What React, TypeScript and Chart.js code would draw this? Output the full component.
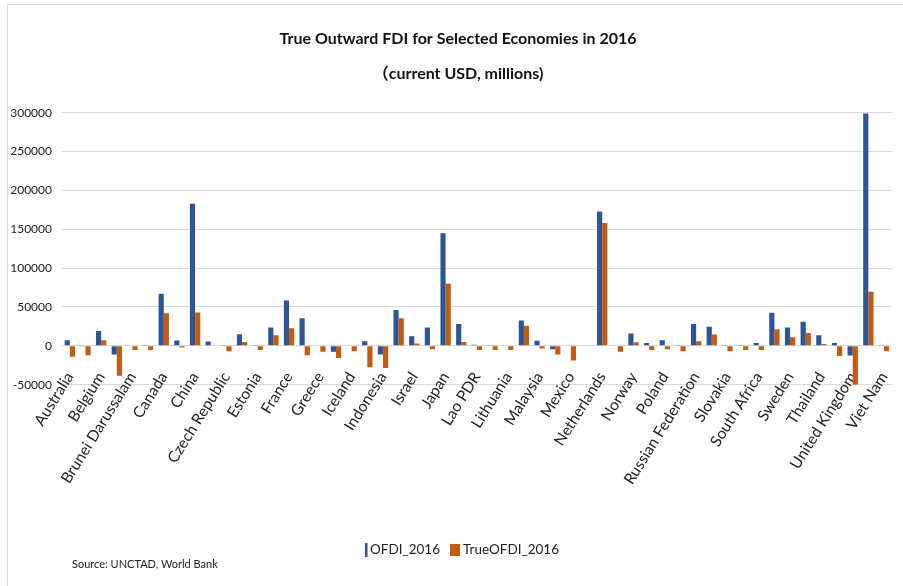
import React, { useEffect, useRef } from 'react';
import { Chart, registerables } from 'chart.js';

Chart.register(...registerables);

const categories = [
  'Australia', 'Austria', 'Belgium', 'Brazil', 'Brunei Darussalam', 'Cambodia', 'Canada', 'Chile', 'China',
  'Colombia', 'Czech Republic', 'Denmark', 'Estonia', 'Finland', 'France', 'Germany', 'Greece', 'Hungary',
  'Iceland', 'India', 'Indonesia', 'Ireland', 'Israel', 'Italy', 'Japan', 'Korea', 'Lao PDR', 'Latvia',
  'Lithuania', 'Luxembourg', 'Malaysia', 'Malta', 'Mexico', 'Myanmar', 'Netherlands', 'New Zealand', 'Norway',
  'Philippines', 'Poland', 'Portugal', 'Russian Federation', 'Singapore', 'Slovakia', 'Slovenia', 'South Africa',
  'Spain', 'Sweden', 'Switzerland', 'Thailand', 'Turkey', 'United Kingdom', 'United States', 'Viet Nam',
];

const ofdi2016 = [
  7300, -1000, 19000, -11000, 0, 1000, 67000, 7000, 183000,
  5500, 1000, 15000, 1000, 23500, 58500, 35500, 0, -7500,
  0, 6000, -11000, 46000, 12500, 23500, 145000, 28000, 1500, 1000,
  0, 32500, 6500, -4500, 0, 0, 173000, 0, 16000,
  3500, 7300, 1000, 28000, 24500, 1000, 1000, 3500,
  42500, 23500, 31000, 13500, 3500, -12500, 299000, 1000,
];

const trueOfdi2016 = [
  -14000, -12000, 7300, -38500, -5500, -5500, 42000, -2000, 43000,
  0, -7000, 5000, -5500, 13500, 22500, -12000, -7500, -15500,
  -7000, -27500, -28500, 35500, 3000, -4500, 80000, 5000, -5500, -5500,
  -5500, 26000, -3500, -11000, -19000, 0, 158000, -7500, 4700,
  -5500, -4300, -7000, 6000, 14500, -7000, -5500, -5500,
  21500, 11000, 16500, 2500, -13000, -50000, 69500, -7000,
];

const yMin = -50000;
const yMax = 300000;
const yStep = 50000;

const titleLines = ['True Outward FDI for Selected Economies in 2016', '（current USD, millions)'];
const sourceNote = 'Source: UNCTAD, World Bank';
const seriesNames = ['OFDI_2016', 'TrueOFDI_2016'];
const seriesColors = ['#2F5597', '#C55A11'];

const FONT = 'Lato, "Noto Sans", "Noto Sans CJK SC", sans-serif';
const TEXT = '#222222';

const footerPlugin = {
  id: 'footerNote',
  afterDraw(chart: any) {
    const ctx = chart.ctx;
    ctx.save();
    ctx.textBaseline = 'middle';
    ctx.textAlign = 'left';
    ctx.fillStyle = TEXT;
    ctx.font = `11px ${FONT}`;
    ctx.fillText(sourceNote, 72, 564);

    const ds = chart.data.datasets;
    ctx.font = `13.5px ${FONT}`;
    const y = 550;
    let x = 365;
    ctx.fillStyle = ds[0].backgroundColor;
    ctx.fillRect(x, y - 7, 2.5, 14);
    x += 5;
    ctx.fillStyle = TEXT;
    ctx.fillText(ds[0].label, x, y);
    x += ctx.measureText(ds[0].label).width + 10;
    ctx.fillStyle = ds[1].backgroundColor;
    ctx.fillRect(x, y - 6, 10, 12);
    x += 13;
    ctx.fillStyle = TEXT;
    ctx.fillText(ds[1].label, x, y);
    ctx.restore();
  },
};

export default function App() {
  const canvasRef = useRef<HTMLCanvasElement | null>(null);

  useEffect(() => {
    if (!canvasRef.current) return;
    const chart = new Chart(canvasRef.current, {
      type: 'bar',
      data: {
        labels: categories,
        datasets: [
          { label: seriesNames[0], data: ofdi2016, backgroundColor: seriesColors[0], categoryPercentage: 0.66, barPercentage: 1 },
          { label: seriesNames[1], data: trueOfdi2016, backgroundColor: seriesColors[1], categoryPercentage: 0.66, barPercentage: 1 },
        ],
      },
      options: {
        responsive: false,
        animation: false,
        layout: { padding: { left: 8, right: 7, top: 0, bottom: 201.3 } },
        plugins: {
          legend: { display: false },
          tooltip: { enabled: false },
          title: {
            display: true,
            text: titleLines,
            color: '#111111',
            font: { family: FONT, size: 16, weight: 'bold', lineHeight: 2.2 },
            padding: { top: 21, bottom: 21.3 },
          },
        },
        scales: {
          x: {
            position: { y: 0 },
            grid: { display: false },
            border: { display: false },
            ticks: {
              autoSkip: false,
              minRotation: 58,
              maxRotation: 58,
              padding: 15,
              color: TEXT,
              font: { family: FONT, size: 15.5 },
              callback: (_v: any, i: number) => (i % 2 === 0 ? categories[i] : ''),
            },
          },
          y: {
            min: yMin,
            max: yMax,
            grid: { color: '#d9d9d9', drawTicks: false, lineWidth: 1 },
            border: { display: false },
            ticks: {
              stepSize: yStep,
              padding: 10,
              color: TEXT,
              font: { family: FONT, size: 12 },
              callback: (v: any) => String(v),
            },
            afterFit: (s: any) => {
              s.width = 54;
            },
          },
          yR: {
            position: 'right',
            display: true,
            grid: { display: false },
            border: { display: false },
            ticks: { display: false },
            afterFit: (s: any) => {
              s.width = 15;
            },
          },
        },
      },
      plugins: [footerPlugin],
    } as any);
    return () => chart.destroy();
  }, []);

  return (
    <div style={{ position: 'fixed', left: 0, top: 0, width: 903, height: 586, background: '#fff', overflow: 'hidden' }}>
      <div
        style={{
          position: 'absolute', left: 7, top: 4, width: 910, height: 600,
          borderLeft: '1.5px solid #d9d9d9', borderTop: '1.5px solid #d9d9d9',
        }}
      />
      <canvas ref={canvasRef} width={915} height={586} style={{ position: 'absolute', left: 0, top: 0, display: 'block' }} />
    </div>
  );
}
